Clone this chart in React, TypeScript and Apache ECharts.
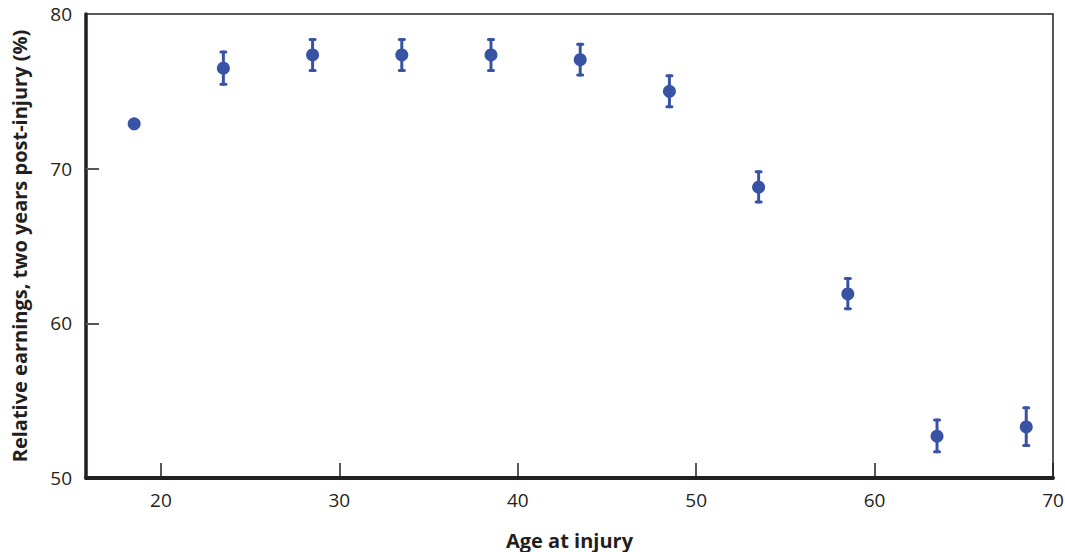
import React, { useEffect, useRef } from "react";
import * as echarts from "echarts";

const ages = [18.5, 23.5, 28.5, 33.5, 38.5, 43.5, 48.5, 53.5, 58.5, 63.5, 68.5];
const earnings = [72.9, 76.5, 77.35, 77.35, 77.35, 77.05, 75.0, 68.8, 61.9, 52.7, 53.3];
const lower = [72.9, 75.45, 76.35, 76.35, 76.35, 76.05, 74.0, 67.85, 60.95, 51.7, 52.1];
const upper = [72.9, 77.55, 78.35, 78.35, 78.35, 78.05, 76.0, 69.8, 62.9, 53.75, 54.55];
const xTicks = [20, 30, 40, 50, 60, 70];
const yTicks = [50, 60, 70, 80];

const BLUE = "#3953a4";
const INK = "#231f20";
const FONT = "'Open Sans', 'Noto Sans', sans-serif";

export default function App() {
  const ref = useRef<HTMLDivElement>(null);
  useEffect(() => {
    if (!ref.current) return;
    const chart = echarts.init(ref.current, null, { renderer: "svg" });
    const errData = ages.map((a, i) => [a, lower[i], upper[i]]);
    chart.setOption({
      animation: false,
      grid: {
        left: 86,
        right: 12,
        top: 14,
        bottom: 74,
        containLabel: false,
        outerBoundsMode: "none",
        show: true,
        borderColor: INK,
        borderWidth: 1.5,
      },
      xAxis: {
        type: "value",
        min: 15.8,
        max: 70,
        name: "Age at injury",
        nameLocation: "middle",
        nameGap: 52,
        nameTextStyle: { fontFamily: FONT, fontSize: 20, fontWeight: "bold", color: INK },
        axisLine: { show: true, onZero: false, lineStyle: { color: INK, width: 4 } },
        axisTick: {
          show: true,
          inside: true,
          length: 15,
          customValues: xTicks,
          lineStyle: { color: INK, width: 1.5 },
        },
        axisLabel: {
          customValues: xTicks,
          margin: 12,
          fontFamily: FONT,
          fontSize: 19,
          color: INK,
        },
        splitLine: { show: false },
      },
      yAxis: {
        type: "value",
        min: 50,
        max: 80,
        interval: 10,
        name: "Relative earnings, two years post-injury (%)",
        nameLocation: "middle",
        nameGap: 57,
        nameTextStyle: { fontFamily: FONT, fontSize: 20, fontWeight: "bold", color: INK },
        axisLine: { show: true, lineStyle: { color: INK, width: 3.5 } },
        axisTick: {
          show: true,
          inside: true,
          length: 13,
          customValues: yTicks.slice(1, 3),
          lineStyle: { color: "#555", width: 2 },
        },
        axisLabel: {
          customValues: yTicks,
          margin: 14,
          fontFamily: FONT,
          fontSize: 19,
          color: INK,
        },
        splitLine: { show: false },
      },
      series: [
        {
          type: "custom",
          data: errData,
          z: 2,
          renderItem: (params: any, api: any) => {
            const x = api.value(0);
            const lo = api.coord([x, api.value(1)]);
            const hi = api.coord([x, api.value(2)]);
            const style = { stroke: BLUE, lineWidth: 3, lineCap: "round" };
            const cap = 2.5;
            return {
              type: "group",
              children: [
                { type: "line", shape: { x1: lo[0], y1: lo[1], x2: hi[0], y2: hi[1] }, style },
                { type: "line", shape: { x1: lo[0] - cap, y1: lo[1], x2: lo[0] + cap, y2: lo[1] }, style },
                { type: "line", shape: { x1: hi[0] - cap, y1: hi[1], x2: hi[0] + cap, y2: hi[1] }, style },
              ],
            };
          },
        },
        {
          type: "scatter",
          data: ages.map((a, i) => [a, earnings[i]]),
          symbol: "circle",
          symbolSize: 13,
          itemStyle: { color: BLUE, opacity: 1 },
          z: 3,
        },
      ],
    });
    return () => chart.dispose();
  }, []);
  return <div ref={ref} style={{ width: 1065, height: 552, position: "absolute", left: 0, top: 0 }} />;
}
